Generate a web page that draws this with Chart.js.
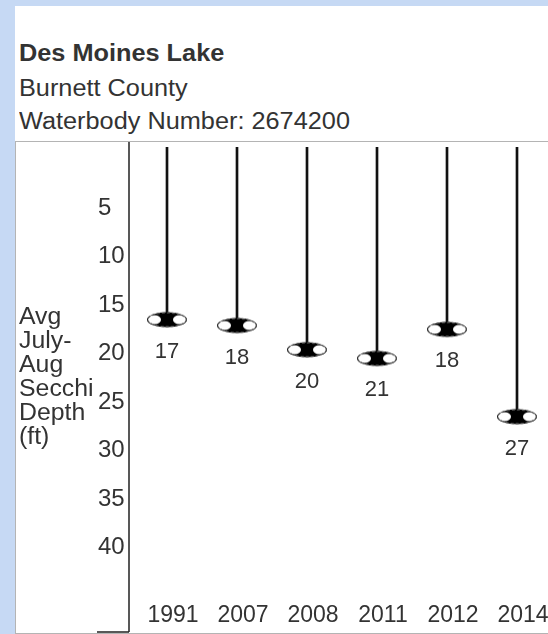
<!DOCTYPE html>
<html>
<head>
<meta charset="utf-8">
<script src="https://cdn.jsdelivr.net/npm/chart.js@4/dist/chart.umd.min.js"></script>
<style>
  html, body { margin: 0; padding: 0; }
  body { width: 548px; height: 634px; overflow: hidden; background: #c6d9f4; position: relative;
         font-family: Arial, "Liberation Sans", sans-serif; color: #333; }
  #panel { position: absolute; left: 15px; top: 6px; width: 600px; height: 640px; background: #fff; }
  .hd { position: absolute; left: 19px; font-size: 23px; line-height: 26px; white-space: nowrap;
        transform: scaleX(1.1); transform-origin: 0 0; }
  #box { position: absolute; left: 15px; top: 141px; width: 600px; height: 491px;
         border: 1px solid #b4b4b4; border-right: none; background: #fff; }
  #box canvas { position: absolute; left: 0; top: 0; }
  #ytitle { position: absolute; left: 19px; top: 304px; font-size: 23px; line-height: 24px;
            transform: scaleX(1.08); transform-origin: 0 0; }
</style>
</head>
<body>
<div id="panel"></div>
<div class="hd" style="top:40px;font-weight:bold">Des Moines Lake</div>
<div class="hd" style="top:75px">Burnett County</div>
<div class="hd" style="top:108px">Waterbody Number: 2674200</div>
<div id="box"><canvas id="secchiChart" width="584" height="491"></canvas></div>
<div id="ytitle">Avg<br>July-<br>Aug<br>Secchi<br>Depth<br>(ft)</div>
<script>
// Secchi depth by year (ft)
const years = ['1991', '2007', '2008', '2011', '2012', '2014'];
const secchiDepth = [17.0, 17.6, 20.1, 21.0, 18.0, 27.0];
const depthTicks = [5, 10, 15, 20, 25, 30, 35, 40];

const Y_MIN = -0.8;
const Y_MAX = 45.7;

// secchi disk marker seen from the side
function makeDisk() {
  const c = document.createElement('canvas');
  c.width = 44; c.height = 18;
  const g = c.getContext('2d');
  const cx = 22, cy = 9, rx = 20, ry = 7.5;
  g.beginPath();
  g.ellipse(cx, cy, rx, ry, 0, 0, Math.PI * 2);
  g.fillStyle = '#000';
  g.fill();
  g.fillStyle = '#fff';
  [-1, 1].forEach(side => {
    g.beginPath();
    g.ellipse(cx + side * 12.5, cy, 6.5, 4.6, 0, 0, Math.PI * 2);
    g.fill();
  });
  g.beginPath();
  g.ellipse(cx, cy, rx - 0.6, ry - 0.6, 0, 0, Math.PI * 2);
  g.setLineDash([3, 2]);
  g.strokeStyle = '#555';
  g.lineWidth = 1.2;
  g.stroke();
  return c;
}

// y axis line + bottom stub, and value labels under the disks
const extras = {
  id: 'extras',
  afterDraw(chart) {
    const ctx = chart.ctx;
    const ax = chart.chartArea.left - 3;
    ctx.save();
    ctx.strokeStyle = '#222';
    ctx.lineWidth = 1.5;
    ctx.beginPath();
    ctx.moveTo(ax, 0);
    ctx.lineTo(ax, chart.height - 1);
    ctx.moveTo(ax - 32, chart.height - 1);
    ctx.lineTo(ax, chart.height - 1);
    ctx.stroke();

    const meta = chart.getDatasetMeta(1);
    ctx.fillStyle = '#333';
    ctx.font = '22px Arial, "Liberation Sans", sans-serif';
    ctx.textAlign = 'center';
    ctx.textBaseline = 'middle';
    meta.data.forEach((pt, i) => {
      ctx.fillText(String(Math.round(secchiDepth[i])), pt.x, pt.y + 32);
    });
    ctx.restore();
  }
};

const fontFamily = 'Arial, "Liberation Sans", sans-serif';

new Chart(document.getElementById('secchiChart'), {
  type: 'bar',
  data: {
    labels: years,
    datasets: [{
      type: 'bar',
      data: secchiDepth.map(v => [Y_MIN, v]),
      backgroundColor: '#111',
      barThickness: 2,
      order: 2
    }, {
      type: 'line',
      data: secchiDepth,
      showLine: false,
      pointStyle: makeDisk(),
      pointRadius: 10,
      order: 1
    }]
  },
  options: {
    responsive: false,
    devicePixelRatio: 1,
    animation: false,
    layout: { autoPadding: false, padding: { left: 82, top: 5, right: 48, bottom: 0 } },
    plugins: { legend: { display: false }, tooltip: { enabled: false } },
    scales: {
      x: {
        grid: { display: false },
        border: { display: false },
        ticks: { font: { family: fontFamily, size: 23 }, color: '#333', labelOffset: 6, padding: -4,
                 maxRotation: 0, autoSkip: false },
        afterFit(s) { s.height = 35; s.paddingLeft = 0; s.paddingRight = 0; }
      },
      y: {
        reverse: true,
        min: Y_MIN,
        max: Y_MAX,
        grid: { display: false },
        border: { display: false },
        ticks: { font: { family: fontFamily, size: 24 }, color: '#333', padding: 0,
                 crossAlign: 'far', labelOffset: 5 },
        afterBuildTicks(s) { s.ticks = depthTicks.map(v => ({ value: v })); },
        afterFit(s) { s.width = 34; s.paddingTop = 0; s.paddingBottom = 0; }
      }
    }
  },
  plugins: [extras]
});
</script>
</body>
</html>
